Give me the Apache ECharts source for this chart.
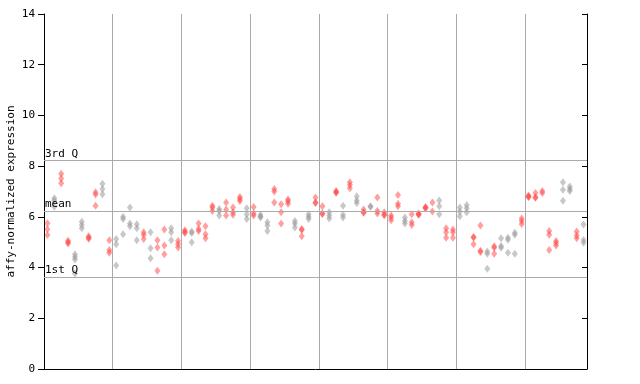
<!DOCTYPE html>
<html><head><meta charset="utf-8">
<script src="https://cdn.jsdelivr.net/npm/echarts@6/dist/echarts.min.js"></script>
<style>html,body{margin:0;padding:0;background:#fff}#c{width:640px;height:384px}</style>
</head><body><div id="c"></div>
<script>
// values per sample column (79 columns, 10 per block)
const colValues = [
 [5.75,5.51,5.28],[6.73,6.65,6.40],[7.70,7.51,7.33],[5.06,5.00,4.95],[4.53,4.42,4.32,3.77],
 [5.81,5.68,5.55],[5.24,5.18,5.14],[6.97,6.88,6.44],[7.31,7.10,6.89],[5.08,4.69,4.58],
 [5.13,4.92,4.08],[6.00,5.92,5.31],[6.37,5.74,5.63],[5.71,5.55,5.08],[5.39,5.29,5.13],
 [5.39,4.76,4.37],[5.08,4.79,3.87],[5.50,4.87,4.53],[5.55,5.39,5.08],[5.05,4.92,4.79],
 [5.47,5.40,5.36],[5.42,5.36,5.00],[5.74,5.52,5.44],[5.63,5.31,5.16],[6.44,6.37,6.23],
 [6.31,6.23,6.05],[6.57,6.29,6.05],[6.37,6.18,6.08],[6.78,6.70,6.63],[6.34,6.10,5.92],
 [6.39,6.13,6.05],[6.08,6.00,5.98],[5.79,5.66,5.44],[7.10,7.00,6.57],[6.50,6.18,5.74],
 [6.68,6.62,6.52],[5.84,5.74,5.58],[5.52,5.48,5.24],[6.10,6.00,5.92],[6.76,6.57,6.55],
 [6.42,6.13,6.11],[6.18,6.05,5.94],[7.02,6.97,6.95],[6.44,6.08,5.97],[7.36,7.26,7.13],
 [6.81,6.65,6.55],[6.29,6.18,6.16],[6.42,6.40],[6.76,6.23,6.13],[6.18,6.08,6.06],
 [6.05,5.97,5.87],[6.86,6.52,6.42],[5.97,5.84,5.74],[6.10,5.79,5.68],[6.13,6.10,6.08],
 [6.39,6.36,6.34],[6.57,6.21],[6.65,6.42,6.10],[5.55,5.39,5.18],[5.50,5.39,5.18],
 [6.37,6.21,6.02],[6.47,6.34,6.18],[5.21,5.19,4.92],[5.66,4.66,4.61],[4.63,4.55,3.95],
 [4.84,4.78,4.55],[5.16,4.85,4.78],[5.18,5.10,4.58],[5.37,5.29,4.55],[5.94,5.84,5.72],
 [6.84,6.79,6.78],[6.94,6.77,6.75],[7.02,6.94],[5.44,5.29,4.69],[5.05,4.97,4.87],
 [7.36,7.07,6.64],[7.20,7.10,7.02],[5.42,5.26,5.16],[5.70,5.09,4.98]
];
// colour of each column: r = red, g = grey
const colColors = "rgrrgg rrgr gggg rgrrgr rgrrrgrrrgrg grrrgrgrrgrgrgrgrrrrgrrrrgrrgg rrgrgggrrrrrrggrgr".replace(/ /g,"");
const quantileValues = [8.23, 6.23, 3.63];
const quantileLabels = ["3rd Q", "mean", "1st Q"];
const yTicks = [0, 2, 4, 6, 8, 10, 12, 14];
const nCols = 79;

const redPts = [], greyPts = [];
colValues.forEach((vals, i) => {
  const target = colColors[i] === 'g' ? greyPts : redPts;
  vals.forEach(v => target.push([i + 0.5, v]));
});

const font = '"DejaVu Sans Mono", monospace';
const chart = echarts.init(document.getElementById('c'), null, {renderer: 'canvas'});
chart.setOption({
  animation: false,
  grid: {left: 44, right: 53, top: 14, bottom: 15, containLabel: false, outerBoundsMode: 'none'},
  xAxis: {
    type: 'value', min: 0, max: nCols, interval: 10,
    axisLine: {show: true, lineStyle: {color: '#000', width: 1}},
    axisTick: {show: false}, axisLabel: {show: false},
    splitLine: {show: true, lineStyle: {color: '#aaaaaa', width: 1}}
  },
  yAxis: [{
    type: 'value', min: yTicks[0], max: yTicks[yTicks.length - 1], interval: 2,
    name: 'affy-normalized expression', nameLocation: 'middle', nameGap: 27, nameMoveOverlap: false,
    nameTextStyle: {fontFamily: font, fontSize: 11, color: '#000'},
    axisLine: {show: true, lineStyle: {color: '#000', width: 1}},
    axisTick: {show: true, length: 6, lineStyle: {color: '#000'}},
    axisLabel: {fontFamily: font, fontSize: 11, color: '#000', margin: 9},
    splitLine: {show: false}
  }, {
    type: 'value', min: yTicks[0], max: yTicks[yTicks.length - 1], interval: 2, position: 'right',
    axisLine: {show: true, lineStyle: {color: '#000', width: 1}},
    axisTick: {show: true, inside: true, length: 5, lineStyle: {color: '#000'}},
    axisLabel: {show: false}, splitLine: {show: false}
  }],
  series: [{
    type: 'scatter', data: greyPts, symbol: 'diamond', symbolSize: [6, 8],
    itemStyle: {color: 'rgba(150,150,150,0.65)'}, z: 3,
    markLine: {
      silent: true, symbol: 'none', animation: false,
      lineStyle: {color: '#aaaaaa', width: 1, type: 'solid'},
      label: {position: 'insideStartTop', distance: [1, 1], fontFamily: font, fontSize: 11, color: '#000',
        formatter: p => p.name},
      data: quantileValues.map((v, i) => ({yAxis: v, name: quantileLabels[i]}))
    }
  }, {
    type: 'scatter', data: redPts, symbol: 'diamond', symbolSize: [6, 8],
    itemStyle: {color: 'rgba(255,70,70,0.65)'}, z: 4
  }]
});
</script></body></html>
